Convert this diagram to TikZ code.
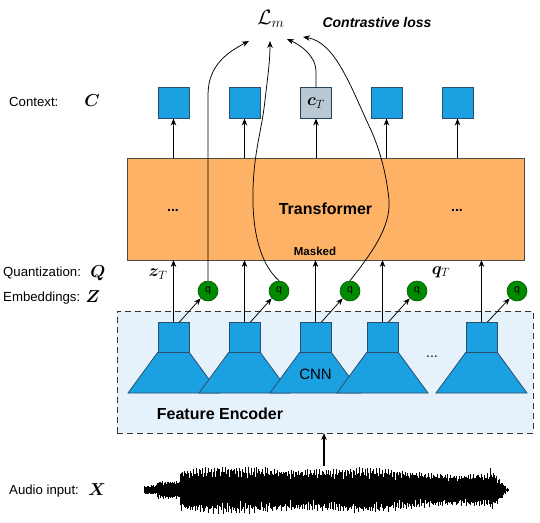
\documentclass[tikz,border=0pt]{standalone}
\usepackage{amsmath,bm}
\usepackage{fontspec}
\setmainfont{Liberation Sans}
\usetikzlibrary{arrows.meta,calc}
\definecolor{cblue}{HTML}{1BA1E2}
\definecolor{cbluedk}{HTML}{2A4F6E}
\definecolor{cgray}{HTML}{BAC8D3}
\definecolor{cgraydk}{HTML}{23445D}
\definecolor{corange}{HTML}{FDB266}
\definecolor{corangedk}{HTML}{4A4A4A}
\definecolor{cgreen}{HTML}{008A00}
\definecolor{cgreendk}{HTML}{005700}
\definecolor{cenc}{HTML}{E6F2FB}
\tikzset{
  bluebox/.style={draw=cbluedk, fill=cblue, line width=0.8pt, minimum width=31pt, minimum height=30pt, inner sep=0pt, outer sep=0pt},
  ctxbox/.style={bluebox, minimum height=31pt},
  grybox/.style={ctxbox, draw=cgraydk, fill=cgray},
  trapst/.style={draw=cbluedk, fill=cblue, line width=0.8pt, line join=miter},
  qnode/.style={circle, draw=cgreendk, fill=cgreen, line width=0.6pt, minimum size=20pt, inner sep=0pt, font=\fontsize{10.5}{12}\selectfont},
  arr/.style={-{Stealth[length=7pt,width=5.5pt]}, line width=0.75pt},
  curve/.style={arr},
  lab/.style={anchor=west, inner sep=0pt, font=\fontsize{13.2}{15}\selectfont},
  mlab/.style={inner sep=0pt, font=\fontsize{17.5}{20}\selectfont},
  bigbold/.style={inner sep=0pt, font=\fontsize{16}{19}\selectfont\bfseries},
  encbox/.style={draw=black!80, dash pattern=on 6pt off 4pt, fill=cenc, line width=0.8pt, minimum width=416pt, minimum height=122pt, inner sep=0pt, outer sep=0pt},
  transbox/.style={draw=corangedk, fill=corange, line width=0.8pt, minimum width=397pt, minimum height=102pt, inner sep=0pt, outer sep=0pt, font=\fontsize{16}{19}\selectfont\bfseries}
}
\begin{document}
\begin{tikzpicture}[x=1pt,y=-1pt]
\useasboundingbox (0,0) rectangle (540,522);

% feature encoder
\node[encbox] (enc) at (325,372) {};
\node[bigbold] (fe) at (220,414) {Feature Encoder};
\foreach \c in {173.5,244.5,315.5,382.5,481.5}
  \draw[trapst] (\c-15.5,352) -- (\c+15.5,352) -- (\c+45.5,393) -- (\c-45.5,393) -- cycle;
\node[bluebox] (b1) at (173.5,337) {};
\node[bluebox] (b2) at (244.5,337) {};
\node[bluebox] (b3) at (315.5,337) {};
\node[bluebox] (b4) at (382.5,337) {};
\node[bluebox] (b5) at (481.5,337) {};
\node[inner sep=0pt, font=\fontsize{15}{18}\selectfont] (cnn) at (315.5,374) {CNN};
\node[inner sep=0pt, font=\fontsize{14}{16}\selectfont] (dots3) at (432,357) {...};

% quantizer circles
\node[qnode] (q1) at (208,291) {q};
\node[qnode] (q2) at (279,291) {q};
\node[qnode] (q3) at (350,291) {q};
\node[qnode] (q4) at (417,291) {q};
\node[qnode] (q5) at (517,291) {q};

% transformer
\node[transbox] (trans) at (325.5,209) {Transformer};
\node[inner sep=0pt, font=\fontsize{14}{16}\selectfont\bfseries] (dots1) at (173,210) {...};
\node[inner sep=0pt, font=\fontsize{14}{16}\selectfont\bfseries] (dots2) at (457,210) {...};
\node[inner sep=0pt, font=\fontsize{11.5}{13}\selectfont\bfseries] (masked) at (315,251) {Masked};

% context boxes
\node[ctxbox] (c1) at (173.5,103) {};
\node[ctxbox] (c2) at (244.5,103) {};
\node[grybox, font=\fontsize{17.5}{20}\selectfont] (c3) at (316,103) {$\bm{c}_T$};
\node[ctxbox] (c4) at (386.5,103) {};
\node[ctxbox] (c5) at (457.5,103) {};

% arrows encoder -> transformer
\foreach \i in {1,...,5} {
  \draw[arr] (b\i.north) -- (b\i.north |- trans.south);
  \draw[arr] ($(b\i.north)+(6,0)$) -- (q\i.south west);
}
% arrows transformer -> context
\foreach \i in {1,...,5}
  \draw[arr] (c\i.south |- trans.north) -- (c\i.south);

% loss
\node[inner sep=0pt, font=\fontsize{20}{24}\selectfont] (Lm) at (271,19) {$\mathcal{L}_m$};
\node[inner sep=0pt, font=\fontsize{14}{16}\selectfont\bfseries\itshape] (cl) at (377,22) {Contrastive loss};
\coordinate (e1) at (249,41);
\coordinate (e2) at (270,41);
\coordinate (e3) at (287,39);
\coordinate (e4) at (303,37);

\draw[curve] (q1.north) -- (208,95) .. controls (208,65) and (228,52) .. (e1);
\draw[curve] (q2.north) .. controls (258,262) and (252,225) .. (253,190)
   .. controls (254,150) and (262,130) .. (265,100)
   .. controls (268,75) and (270,60) .. (e2);
\draw[curve] (c3.north) -- (316,72) .. controls (316,55) and (300,45) .. (e3);
\draw[curve] (q3.north) .. controls (370,255) and (391,228) .. (389,200)
   .. controls (386,170) and (378,145) .. (370,128)
   .. controls (350,85) and (335,42) .. (e4);

% labels
\node[lab] (lc) at (9,102) {Context:};
\node[mlab] (mc) at (92,101) {$\bm{C}$};
\node[lab] (lq) at (3,273) {Quantization:};
\node[mlab] (mq) at (98,273) {$\bm{Q}$};
\node[lab] (lz) at (3,298) {Embeddings:};
\node[mlab] (mz) at (93,297) {$\bm{Z}$};
\node[lab] (la) at (9,491) {Audio input:};
\node[mlab] (mx) at (97,490) {$\bm{X}$};
\node[mlab] (zt) at (158,274) {$\bm{z}_T$};
\node[mlab] (qt) at (441,272) {$\bm{q}_T$};

% waveform
\foreach \i in {0,...,520} {
  \pgfmathsetmacro{\xx}{144+0.7*\i}
  \pgfmathsetmacro{\ka}{mod(\i,37)}
  \pgfmathsetmacro{\kb}{mod(\i,53)}
  \pgfmathsetmacro{\kc}{mod(\i,41)}
  \pgfmathsetmacro{\kd}{mod(\i,59)}
  \pgfmathsetmacro{\env}{(\xx<157) ? (4+(\xx-144)*0.05) : ((\xx<180) ? 8.5 : ((\xx>490) ? (20*(508-\xx)/18+1) : (19+2.5*sin((\xx-180)*0.9)+2*sin((\xx-180)*2.3))))}
  \pgfmathsetmacro{\up}{\env*(0.5+0.3*abs(sin(\ka*97))+0.28*abs(sin(\kb*223+31))^3)}
  \pgfmathsetmacro{\dn}{\env*(0.5+0.3*abs(sin(\kc*131+17))+0.28*abs(sin(\kd*257+73))^3)}
  \draw[line width=0.9pt] (\xx,490-\up) -- (\xx,490+\dn);
}
\coordinate (wav) at (324,466);
\draw[arr, line width=1.2pt] (wav) -- (wav |- enc.south);
\end{tikzpicture}
\end{document}
